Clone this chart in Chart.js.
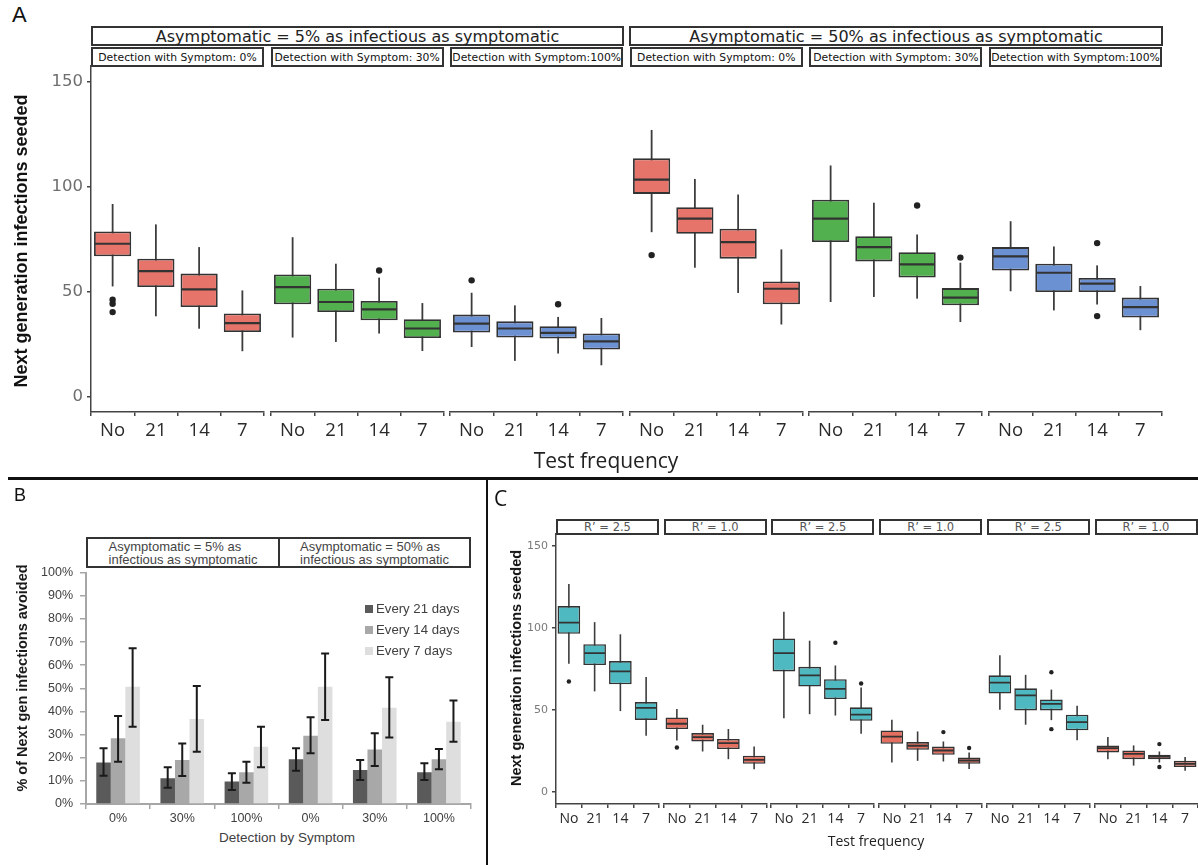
<!DOCTYPE html>
<html><head><meta charset="utf-8">
<script src="https://cdn.jsdelivr.net/npm/chart.js@4.4.1/dist/chart.umd.min.js"></script>
<style>
html,body{margin:0;padding:0;background:#fff;}
#root{position:relative;width:1198px;height:865px;overflow:hidden;background:#fff;font-family:'Liberation Sans',Arial,sans-serif;}
canvas{position:absolute;}
.strip{position:absolute;box-sizing:border-box;border:2px solid #333;background:#fff;display:flex;flex-direction:column;align-items:center;justify-content:center;white-space:nowrap;color:#222;}
.txt{position:absolute;white-space:nowrap;transform:translate(-50%,-50%);}
.vtxt{position:absolute;white-space:nowrap;transform:translate(-50%,-50%) rotate(-90deg);}
</style></head><body><div id="root"></div>
<script>
// ---------------- DATA ----------------
const freqLabels = ['No', '21', '14', '7'];
const yTickValues = [0, 50, 100, 150];
// box stats per test frequency: [lower whisker, Q1, median, Q3, upper whisker]
const a5Det0   = [[52.5,66.8,72.8,78.6,91.7],[38.3,52.2,59.8,65.7,82.0],[32.4,42.7,51.1,58.6,71.2],[21.7,30.8,35.1,39.6,50.6]];
const a5Det0Out   = [[46.2,44.3,40.3],[],[],[]];
const a5Det30  = [[28.2,44.0,52.2,58.2,75.9],[26.1,40.3,45.1,51.4,63.3],[30.1,36.4,41.6,45.6,56.7],[21.8,28.0,32.5,36.9,44.6]];
const a5Det30Out  = [[],[],[60.1],[]];
const a5Det100 = [[23.7,30.6,34.8,39.1,49.5],[17.1,28.2,32.5,35.9,43.5],[20.6,27.7,30.4,33.6,38.0],[15.0,22.5,26.4,30.1,37.5]];
const a5Det100Out = [[55.4],[],[44.0],[]];
const a50Det0   = [[78.3,96.5,103.3,113.4,126.9],[61.4,77.5,84.7,90.2,103.6],[49.4,65.7,73.6,79.9,96.2],[34.4,44.0,51.4,54.9,70.1]];
const a50Det0Out   = [[67.4],[],[],[]];
const a50Det30  = [[45.1,73.6,84.7,93.7,110.0],[47.5,64.4,71.2,76.4,92.3],[46.7,56.7,63.0,68.8,77.2],[35.6,43.5,47.2,51.7,63.8]];
const a50Det30Out  = [[],[],[91.0],[66.2]];
const a50Det100 = [[50.2,60.1,66.8,71.2,83.5],[41.1,49.8,59.0,63.3,71.5],[43.9,49.8,53.8,56.5,62.5],[31.7,37.7,42.7,47.2,52.7]];
const a50Det100Out = [[],[],[73.1,38.4],[]];
// Panel C, R' = 1.0 facets
const r1Det0   = [[31.5,38.5,41.7,45.5,50.7],[24.8,30.9,33.6,36.0,41.1],[20.1,26.3,29.9,32.4,38.5],[14.0,17.3,19.7,22.2,27.8]];
const r1Det0Out   = [[27.2],[],[],[]];
const r1Det30  = [[18.1,29.5,33.9,37.6,44.1],[19.1,25.8,28.3,30.5,37.0],[18.7,22.8,25.4,27.8,30.9],[14.2,17.3,19.3,21.1,24.2]];
const r1Det30Out  = [[],[],[36.6],[26.9]];
const r1Det100 = [[20.1,24.2,26.9,28.5,33.6],[16.2,20.1,23.4,25.4,28.5],[18.1,20.1,21.7,22.8,24.8],[13.0,15.3,17.3,19.1,21.4]];
const r1Det100Out = [[],[],[29.3,15.3],[]];

const aInfLabels = ['Asymptomatic = 5% as infectious as symptomatic', 'Asymptomatic = 50% as infectious as symptomatic'];
const aDetLabels = ['Detection with Symptom: 0%', 'Detection with Symptom: 30%', 'Detection with Symptom:100%'];
const cStripLabels = ['R\u2019 = 2.5', 'R\u2019 = 1.0', 'R\u2019 = 2.5', 'R\u2019 = 1.0', 'R\u2019 = 2.5', 'R\u2019 = 1.0'];

// Panel B
const symptomLabels = ['0%', '30%', '100%', '0%', '30%', '100%'];
const seriesLabels = ['Every 21 days', 'Every 14 days', 'Every 7 days'];
const every21 = [17.9, 11.1, 9.7, 19.3, 14.7, 13.7];
const every21Lo = [12.2, 7.0, 6.0, 14.4, 10.4, 10.4];
const every21Hi = [24.1, 15.9, 13.3, 24.1, 19.0, 17.6];
const every14 = [28.4, 19.0, 13.7, 29.5, 23.6, 19.3];
const every14Lo = [18.3, 12.1, 9.2, 21.9, 16.4, 15.0];
const every14Hi = [38.0, 26.2, 18.3, 37.5, 30.6, 23.8];
const every7 = [50.7, 36.7, 24.8, 50.7, 41.6, 35.6];
const every7Lo = [33.4, 22.6, 15.9, 36.3, 28.8, 26.9];
const every7Hi = [67.3, 51.0, 33.4, 65.1, 54.8, 44.7];
const pctTicks = [0,10,20,30,40,50,60,70,80,90,100];
const bHeaderLines = [['Asymptomatic = 5% as','infectious as symptomatic'],['Asymptomatic = 50% as','infectious as symptomatic']];

// ---------------- STYLE ----------------
const RED = '#e6746a', GREEN = '#52b04f', BLUE = '#6c91d2', TEAL = '#4eb9c0', REDC = '#e46e5f';
const Y_MIN = -7.2, Y_MAX = 157.3;

const root = document.getElementById('root');
function addEl(tag, cls, css, text) {
  const e = document.createElement(tag);
  if (cls) e.className = cls;
  e.style.cssText = css;
  if (text !== undefined) e.textContent = text;
  root.appendChild(e);
  return e;
}

function boxFacet(cfg) {
  const P = 4, PT = 16;
  const yW = cfg.yAxisWidth || 0;
  const canvas = document.createElement('canvas');
  canvas.width = cfg.width + yW + 2 * P;
  canvas.height = PT + cfg.height + cfg.xAxisHeight;
  canvas.style.left = (cfg.left - yW - P) + 'px';
  canvas.style.top = (cfg.top - PT) + 'px';
  root.appendChild(canvas);
  const medR = cfg.width / 4 * cfg.boxPct / 2 - 1;
  const outPts = [];
  cfg.outliers.forEach((arr, i) => arr.forEach(v => outPts.push({ x: freqLabels[i], y: v })));
  new Chart(canvas, {
    type: 'bar',
    data: {
      labels: freqLabels,
      datasets: [
        { label: 'whisker', data: cfg.stats.map(s => [s[0], s[4]]), backgroundColor: '#3c3c3c',
          maxBarThickness: cfg.whiskerW, grouped: false, order: 3 },
        { label: 'box', data: cfg.stats.map(s => [s[1], s[3]]), backgroundColor: cfg.color,
          borderColor: '#333', borderWidth: cfg.boxBorder, borderSkipped: false, grouped: false,
          barPercentage: cfg.boxPct, categoryPercentage: 1, order: 2 },
        { type: 'line', label: 'median', data: cfg.stats.map(s => s[2]), showLine: false,
          pointStyle: 'line', pointRadius: medR, pointHoverRadius: medR, pointBorderWidth: cfg.medW,
          pointBorderColor: '#333', order: 1 },
        { type: 'line', label: 'outlier', data: outPts, showLine: false, pointRadius: cfg.outR,
          pointHoverRadius: cfg.outR, pointBackgroundColor: '#222', pointBorderColor: '#222',
          pointBorderWidth: 0, order: 0 }
      ]
    },
    options: {
      responsive: false, animation: false, devicePixelRatio: 1, events: [],
      layout: { padding: { left: P, right: P, top: PT, bottom: 0 }, autoPadding: false },
      plugins: { legend: { display: false }, tooltip: { enabled: false } },
      scales: {
        x: {
          type: 'category', offset: true,
          grid: { display: true, offset: true, drawOnChartArea: false, drawTicks: true, tickLength: 4, color: '#444', lineWidth: 1.5 },
          border: { display: true, color: '#444', width: 1.5 },
          ticks: { font: cfg.xFont, color: '#2a2a2a', padding: cfg.xPad, maxRotation: 0, autoSkip: false },
          afterFit: s => { s.height = cfg.xAxisHeight; }
        },
        y: {
          display: yW > 0, min: Y_MIN, max: Y_MAX,
          afterBuildTicks: s => { s.ticks = yTickValues.map(v => ({ value: v })); },
          grid: { display: true, drawOnChartArea: false, drawTicks: true, tickLength: 4, color: '#444', lineWidth: 1.5 },
          border: { display: true, color: '#444', width: 1.5 },
          ticks: { font: cfg.yFont, color: cfg.yColor, padding: 4 },
          afterFit: s => { s.width = yW; }
        }
      }
    }
  });
}

// ---------------- PANEL A ----------------
const aStats = [a5Det0, a5Det30, a5Det100, a50Det0, a50Det30, a50Det100];
const aOut = [a5Det0Out, a5Det30Out, a5Det100Out, a50Det0Out, a50Det30Out, a50Det100Out];
const aColors = [RED, GREEN, BLUE, RED, GREEN, BLUE];
const A_TOP = 66, A_H = 346, A_X0 = 91, A_STRIDE = 179.6, A_W = 173;

addEl('div', 'strip', `left:91px;top:26px;width:533px;height:20px;font:16px 'DejaVu Sans';`, aInfLabels[0]);
addEl('div', 'strip', `left:629px;top:26px;width:534px;height:20px;font:16px 'DejaVu Sans';`, aInfLabels[1]);
for (let i = 0; i < 6; i++) {
  const fl = A_X0 + i * A_STRIDE;
  addEl('div', 'strip', `left:${fl}px;top:47px;width:${A_W}px;height:20px;font:10.8px 'DejaVu Sans';color:#111;`, aDetLabels[i % 3]);
  boxFacet({
    left: fl, top: A_TOP, width: A_W, height: A_H, xAxisHeight: 50,
    yAxisWidth: i === 0 ? 91 : 0, stats: aStats[i], outliers: aOut[i], color: aColors[i],
    boxPct: 0.86, boxBorder: 1.8, whiskerW: 1.8, medW: 2.2, outR: 3.2,
    xFont: { family: 'Open Sans', size: 18.5 }, xPad: 4,
    yFont: { family: 'DejaVu Sans', size: 16.5 }, yColor: '#6e6e6e'
  });
}
addEl('div', '', `left:12px;top:2px;font:22px 'Liberation Sans';color:#111;position:absolute;`, 'A');
addEl('div', 'vtxt', `left:21px;top:241px;font:bold 18px 'Liberation Sans';color:#111;`, 'Next generation infections seeded');
addEl('div', 'txt', `left:606px;top:460px;font:21px 'Open Sans';color:#222;`, 'Test frequency');

// separators
addEl('div', '', 'position:absolute;left:8px;top:477px;width:1190px;height:2.5px;background:#111;');
addEl('div', '', 'position:absolute;left:486px;top:478px;width:2px;height:387px;background:#111;');

// ---------------- PANEL B ----------------
addEl('div', '', `left:14px;top:485px;font:18px 'Liberation Sans';color:#111;position:absolute;`, 'B');
addEl('div', 'strip', `left:86px;top:537px;width:194px;height:31px;font:13px/13px 'Liberation Sans';color:#444;`, '').innerHTML = bHeaderLines[0].join('<br>');
addEl('div', 'strip', `left:278px;top:537px;width:193px;height:31px;font:13px/13px 'Liberation Sans';color:#444;`, '').innerHTML = bHeaderLines[1].join('<br>');
addEl('div', 'vtxt', `left:22px;top:678px;font:bold 14.5px 'Liberation Sans';color:#1a1a1a;`, '% of Next gen infections avoided');
addEl('div', 'txt', `left:287px;top:837px;font:13.5px 'Liberation Sans';color:#404040;`, 'Detection by Symptom');

const errorBarPlugin = {
  id: 'errorBars',
  afterDatasetsDraw(chart) {
    const ctx = chart.ctx, ys = chart.scales.y;
    chart.data.datasets.forEach((ds, di) => {
      const meta = chart.getDatasetMeta(di);
      meta.data.forEach((bar, i) => {
        const x = bar.x, y1 = ys.getPixelForValue(ds.errLow[i]), y2 = ys.getPixelForValue(ds.errHigh[i]);
        ctx.save();
        ctx.strokeStyle = '#1a1a1a'; ctx.lineWidth = 2;
        ctx.beginPath();
        ctx.moveTo(x, y1); ctx.lineTo(x, y2);
        ctx.moveTo(x - 4, y1); ctx.lineTo(x + 4, y1);
        ctx.moveTo(x - 4, y2); ctx.lineTo(x + 4, y2);
        ctx.stroke();
        ctx.restore();
      });
    });
  }
};
const bCanvas = document.createElement('canvas');
bCanvas.width = 480; bCanvas.height = 325;
bCanvas.style.left = '0px'; bCanvas.style.top = '540px';
root.appendChild(bCanvas);
const bChart = new Chart(bCanvas, {
  type: 'bar',
  data: {
    labels: symptomLabels,
    datasets: [
      { label: seriesLabels[0], data: every21, errLow: every21Lo, errHigh: every21Hi, backgroundColor: '#5a5a5a' },
      { label: seriesLabels[1], data: every14, errLow: every14Lo, errHigh: every14Hi, backgroundColor: '#a8a8a8' },
      { label: seriesLabels[2], data: every7, errLow: every7Lo, errHigh: every7Hi, backgroundColor: '#dedede' }
    ]
  },
  options: {
    responsive: false, animation: false, devicePixelRatio: 1, events: [],
    layout: { padding: { left: 0, right: 9, top: 32.7, bottom: 0 }, autoPadding: false },
    datasets: { bar: { categoryPercentage: 0.68, barPercentage: 1.0 } },
    plugins: { legend: { display: false }, tooltip: { enabled: false } },
    scales: {
      x: {
        grid: { display: true, offset: true, drawOnChartArea: false, tickLength: 5, color: '#a6a6a6', lineWidth: 1.5 },
        border: { display: true, color: '#a6a6a6', width: 2 },
        ticks: { font: { family: 'Liberation Sans', size: 12.5 }, color: '#404040', padding: 2, maxRotation: 0, autoSkip: false },
        afterFit: s => { s.height = 61; }
      },
      y: {
        min: 0, max: 100,
        afterBuildTicks: s => { s.ticks = pctTicks.map(v => ({ value: v })); },
        grid: { display: true, drawOnChartArea: false, tickLength: 6, color: '#a6a6a6', lineWidth: 1.5 },
        border: { display: true, color: '#a6a6a6', width: 2 },
        ticks: { font: { family: 'Liberation Sans', size: 12.5 }, color: '#404040', padding: 7, callback: v => v + '%' },
        afterFit: s => { s.width = 86; }
      }
    }
  },
  plugins: [errorBarPlugin]
});
// HTML legend built from the chart's datasets
bChart.data.datasets.forEach((ds, i) => {
  const cy = 609 + i * 21;
  addEl('div', '', `position:absolute;left:365px;top:${cy - 4}px;width:8px;height:8px;background:${ds.backgroundColor};`);
  addEl('div', '', `position:absolute;left:376px;top:${cy - 8}px;height:16px;line-height:16px;font:13.2px 'Liberation Sans';color:#404040;white-space:nowrap;`, ds.label);
});

// ---------------- PANEL C ----------------
addEl('div', '', `left:494px;top:484px;font:21px 'Open Sans';color:#111;position:absolute;`, 'C');
const cStats = [a50Det0, r1Det0, a50Det30, r1Det30, a50Det100, r1Det100];
const cOut = [a50Det0Out, r1Det0Out, a50Det30Out, r1Det30Out, a50Det100Out, r1Det100Out];
const cColors = [TEAL, REDC, TEAL, REDC, TEAL, REDC];
const C_TOP = 534, C_H = 270, C_X0 = 556, C_STRIDE = 107.7, C_W = 103;
for (let i = 0; i < 6; i++) {
  const fl = C_X0 + i * C_STRIDE;
  addEl('div', 'strip', `left:${fl}px;top:519px;width:${C_W}px;height:16px;font:11.5px 'DejaVu Sans';color:#555;`, cStripLabels[i]);
  boxFacet({
    left: fl, top: C_TOP, width: C_W, height: C_H, xAxisHeight: 40,
    yAxisWidth: i === 0 ? 56 : 0, stats: cStats[i], outliers: cOut[i], color: cColors[i],
    boxPct: 0.88, boxBorder: 1.6, whiskerW: 1.6, medW: 1.8, outR: 2.2,
    xFont: { family: 'Open Sans', size: 14 }, xPad: 3,
    yFont: { family: 'DejaVu Sans', size: 11 }, yColor: '#7a7a7a'
  });
}
addEl('div', 'vtxt', `left:516px;top:668px;font:bold 14.5px 'Liberation Sans';color:#111;`, 'Next generation infections seeded');
addEl('div', 'txt', `left:876px;top:840px;font:14px 'Open Sans';color:#222;`, 'Test frequency');
</script></body></html>
